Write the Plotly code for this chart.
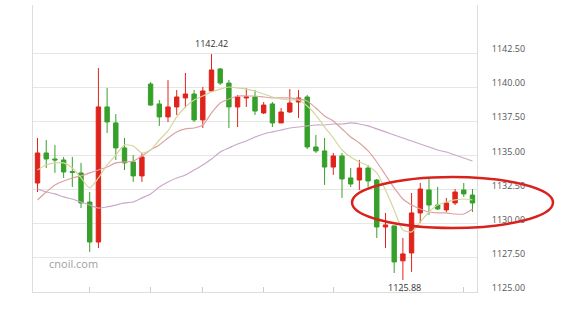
import plotly.graph_objects as go

# ---- data ----
opens = [1132.98, 1135.18, 1134.74, 1134.67, 1133.82, 1133.72, 1131.59, 1128.66, 1138.55, 1137.38,
         1135.55, 1134.52, 1133.50, 1140.23, 1138.77, 1137.82, 1138.55, 1139.21, 1139.50, 1137.60,
         1139.72, 1141.33, 1140.30, 1138.55, 1139.21, 1139.28, 1138.11, 1138.77, 1137.38, 1138.18,
         1138.91, 1139.28, 1135.62, 1135.33, 1134.15, 1134.96, 1133.35, 1133.20, 1134.08, 1133.20,
         1129.76, 1129.84, 1127.28, 1127.86, 1130.79, 1132.47, 1131.37, 1131.01, 1131.52, 1132.47,
         1132.10]
highs = [1136.28, 1136.13, 1135.77, 1134.89, 1134.89, 1134.45, 1132.32, 1141.40, 1139.94, 1138.03,
         1136.28, 1135.03, 1135.18, 1140.37, 1139.06, 1140.52, 1139.79, 1141.04, 1139.79, 1140.01,
         1142.42, 1141.40, 1140.52, 1139.43, 1139.94, 1139.79, 1138.91, 1138.91, 1138.47, 1139.86,
         1139.79, 1139.43, 1136.50, 1136.28, 1135.18, 1135.18, 1134.08, 1134.67, 1134.30, 1133.28,
         1130.79, 1129.84, 1128.96, 1132.25, 1132.98, 1133.28, 1132.69, 1131.89, 1132.54, 1132.98,
         1132.54]
lows = [1132.32, 1134.08, 1133.72, 1133.35, 1132.69, 1131.15, 1127.93, 1128.22, 1136.64, 1134.67,
        1133.93, 1133.06, 1133.06, 1138.62, 1137.16, 1137.45, 1137.96, 1138.47, 1137.45, 1137.01,
        1139.65, 1140.16, 1137.01, 1137.08, 1138.55, 1137.96, 1138.03, 1137.08, 1137.38, 1138.11,
        1137.74, 1135.47, 1135.18, 1132.84, 1133.57, 1131.89, 1132.69, 1132.47, 1132.69, 1128.96,
        1128.22, 1126.39, 1125.88, 1126.47, 1130.06, 1130.64, 1131.01, 1130.86, 1131.37, 1131.96,
        1130.86]
closes = [1135.18, 1134.74, 1134.67, 1133.79, 1133.76, 1131.52, 1128.66, 1138.55, 1137.45, 1135.55,
          1134.45, 1133.50, 1134.89, 1138.69, 1137.82, 1138.55, 1139.28, 1139.50, 1137.60, 1139.72,
          1141.26, 1140.30, 1138.55, 1139.28, 1139.28, 1138.25, 1138.69, 1137.38, 1138.18, 1138.84,
          1139.21, 1135.62, 1135.33, 1134.15, 1134.96, 1133.28, 1132.91, 1134.08, 1133.13, 1129.76,
          1129.91, 1127.20, 1127.79, 1130.79, 1132.54, 1131.37, 1131.08, 1131.52, 1132.32, 1132.18,
          1131.52]

ma_short = [1133.93, 1134.30, 1134.45, 1134.45, 1134.08, 1133.35, 1132.62, 1133.35, 1134.30, 1135.03,
            1135.77, 1135.69, 1135.18, 1135.40, 1136.13, 1136.79, 1137.82, 1138.55, 1139.06, 1139.35,
            1139.65, 1139.86, 1140.01, 1139.94, 1139.86, 1139.72, 1139.50, 1139.28, 1139.13, 1139.06,
            1139.06, 1138.62, 1137.96, 1137.08, 1136.28, 1135.40, 1134.89, 1134.52, 1134.23, 1133.72,
            1132.47, 1131.01, 1129.54, 1129.40, 1130.13, 1130.86, 1131.37, 1131.59, 1131.74, 1131.81,
            1131.74]
ma_mid = [1131.74, 1132.32, 1132.84, 1133.13, 1133.35, 1133.50, 1133.72, 1133.93, 1134.15, 1134.45,
          1134.52, 1134.59, 1134.96, 1135.40, 1135.77, 1136.28, 1136.72, 1136.94, 1137.01, 1137.23,
          1138.11, 1138.84, 1139.13, 1139.35, 1139.35, 1139.35, 1139.28, 1139.21, 1139.21, 1139.21,
          1139.13, 1138.99, 1138.47, 1137.89, 1137.52, 1136.94, 1136.35, 1135.91, 1135.33, 1134.52,
          1133.57, 1132.62, 1131.81, 1131.37, 1131.08, 1130.86, 1130.79, 1130.79, 1130.71, 1130.71,
          1131.08]
ma_long = [1132.54, 1132.32, 1132.18, 1131.96, 1131.81, 1131.59, 1131.37, 1131.15, 1131.23, 1131.37,
           1131.52, 1131.59, 1131.89, 1132.18, 1132.69, 1133.06, 1133.35, 1133.57, 1133.93, 1134.30,
           1134.74, 1135.25, 1135.55, 1135.84, 1136.06, 1136.35, 1136.57, 1136.72, 1136.86, 1137.01,
           1137.08, 1137.16, 1137.23, 1137.23, 1137.30, 1137.30, 1137.38, 1137.30, 1137.16, 1136.94,
           1136.72, 1136.50, 1136.28, 1136.06, 1135.84, 1135.62, 1135.40, 1135.25, 1135.03, 1134.81,
           1134.59]

y_ticks = [1125.0, 1127.5, 1130.0, 1132.5, 1135.0, 1137.5, 1140.0, 1142.5]
y_tick_labels = ["%.2f" % v for v in y_ticks]
x_ticks = [6, 13, 19, 26, 34, 42, 49]

high_label = "1142.42"
low_label = "1125.88"
watermark = "cnoil.com"

idx = list(range(len(opens)))
i_hi = highs.index(max(highs))
i_lo = lows.index(min(lows))

RED = "#e0231b"
GREEN = "#35a02a"

fig = go.Figure()

for vals, col in [(ma_long, "#c9a7c9"), (ma_mid, "#dca2a0"), (ma_short, "#d3d79c")]:
    fig.add_trace(go.Scatter(x=idx, y=vals, mode="lines",
                             line=dict(color=col, width=1.2, shape="spline", smoothing=0.6),
                             hoverinfo="skip", showlegend=False))

fig.add_trace(go.Candlestick(
    x=idx, open=opens, high=highs, low=lows, close=closes,
    increasing=dict(line=dict(color=RED, width=1), fillcolor=RED),
    decreasing=dict(line=dict(color=GREEN, width=1), fillcolor=GREEN),
    showlegend=False,
))

fig.update_layout(
    width=569, height=317,
    margin=dict(l=33, r=92, t=5, b=25),
    paper_bgcolor="white", plot_bgcolor="white",
    boxgap=0.28,
    font=dict(family="Open Sans", size=9, color="#555555"),
    xaxis=dict(
        range=[-0.52, 50.52], rangeslider=dict(visible=False),
        showgrid=False, zeroline=False,
        showline=True, linecolor="#dddddd", linewidth=1,
        tickvals=x_ticks, ticktext=["" for _ in x_ticks],
        ticks="inside", ticklen=5, tickcolor="#cccccc", tickwidth=1,
    ),
    yaxis=dict(
        side="right", range=[1125.0, 1146.015],
        tickvals=y_ticks, ticktext=y_tick_labels,
        showgrid=True, gridcolor="#e6e6e6", gridwidth=1,
        zeroline=False, showline=True, mirror=True,
        linecolor="#dddddd", linewidth=1,
        ticks="", ticklabelstandoff=12, ticklabelshift=-4,
        tickfont=dict(family="Open Sans", size=9, color="#555555"),
    ),
    annotations=[
        dict(x=i_hi, y=highs[i_hi], text=high_label, showarrow=False,
             yanchor="bottom", yshift=2, font=dict(family="Open Sans", size=9, color="#333333")),
        dict(x=i_lo, y=lows[i_lo], text=low_label, showarrow=False,
             yanchor="top", yshift=1, xshift=2, font=dict(family="Open Sans", size=9, color="#333333")),
        dict(x=0.0, y=0.067, xref="paper", yref="paper", text=watermark, showarrow=False,
             xanchor="left", xshift=14, font=dict(family="Open Sans", size=11, color="#a0a0a0")),
    ],
    shapes=[
        dict(type="circle", xref="paper", yref="paper",
             x0=0.7185, x1=1.1712, y0=0.2230, y1=0.4007,
             line=dict(color="#d8221c", width=2.5), fillcolor="rgba(0,0,0,0)", layer="above"),
    ],
)

fig.write_html("out.html")
